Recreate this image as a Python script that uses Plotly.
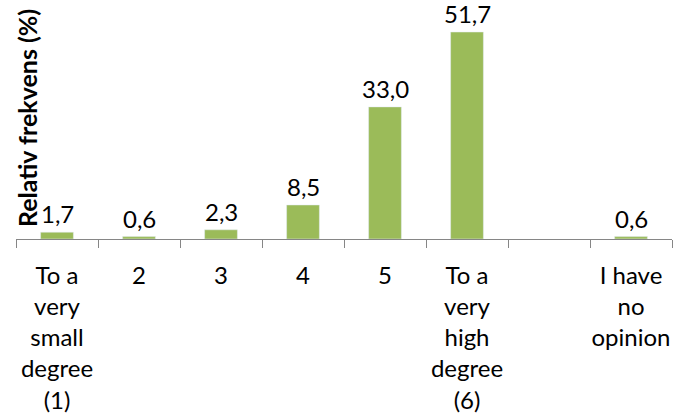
import plotly.graph_objects as go

categories = ["To a<br>very<br>small<br>degree<br>(1)", "2", "3", "4", "5",
              "To a<br>very<br>high<br>degree<br>(6)", " ", "I have<br>no<br>opinion"]
values = [1.7, 0.6, 2.3, 8.5, 33.0, 51.7, None, 0.6]
labels = ["1,7", "0,6", "2,3", "8,5", "33,0", "51,7", "", "0,6"]
y_title = "Relativ frekvens (%)"

font_family = "Lato, Carlito, Calibri, 'Noto Sans', sans-serif"
fs = 24

fig = go.Figure(go.Bar(
    x=categories, y=values,
    marker=dict(color="#9BBB59"), cliponaxis=False,
))

annotations = [dict(
    x=i, y=v, text=t, xref="x", yref="y", showarrow=False,
    yanchor="bottom", yshift=3, borderpad=0,
    font=dict(size=fs, color="#000000", family=font_family),
) for i, (v, t) in enumerate(zip(values, labels)) if v is not None]

annotations.append(dict(
    text=y_title, textangle=-90,
    xref="paper", yref="paper", x=0.0168, y=0.506,
    xanchor="center", yanchor="middle",
    showarrow=False,
    font=dict(size=25, color="#000000", family=font_family, weight="bold"),
))

fig.update_layout(
    width=689, height=419,
    margin=dict(l=16, r=17, t=0, b=180, autoexpand=False),
    plot_bgcolor="white", paper_bgcolor="white",
    bargap=0.6, showlegend=False,
    font=dict(family=font_family, size=fs, color="#000000"),
    annotations=annotations,
)
fig.update_xaxes(
    showline=True, linecolor="#868686", linewidth=1,
    ticks="outside", ticklen=8, tickcolor="#868686", tickson="boundaries",
    ticklabelstandoff=15, tickangle=0, automargin=False,
    tickfont=dict(size=fs, family=font_family, color="#000000"),
)
fig.update_yaxes(range=[0, 59.7], visible=False, showgrid=False, automargin=False)

fig.write_html("out.html", config={"displayModeBar": False},
               post_script="document.body.style.margin='0';")
